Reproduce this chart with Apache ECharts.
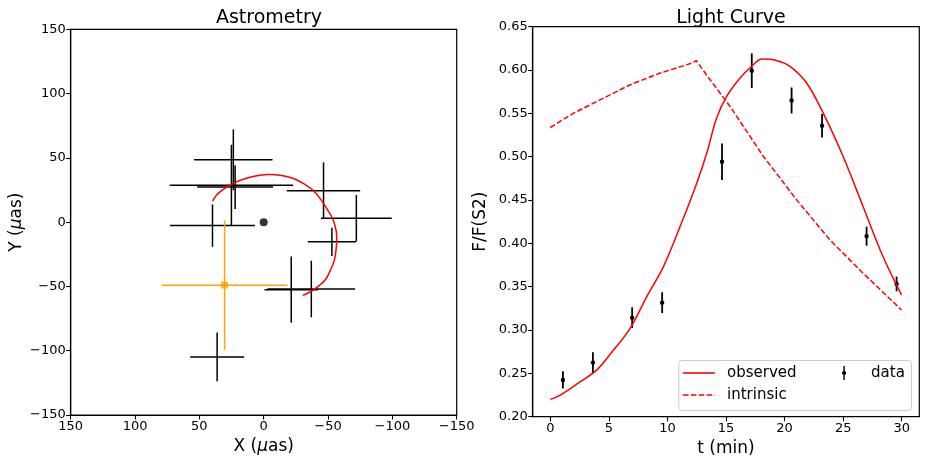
<!DOCTYPE html>
<html>
<head>
<meta charset="utf-8">
<script src="https://cdn.jsdelivr.net/npm/echarts@6/dist/echarts.min.js"></script>
<style>
  html, body { margin: 0; padding: 0; background: #fff; }
  #chart { width: 926px; height: 464px; }
</style>
</head>
<body>
<div id="chart"></div>
<script>
// astrometry, [X, Y, xerr, yerr] in uas
const astroPoints = [
  [23.6, 48.5, 30.5, 23.7],
  [25.1, 28.7, 48.0, 31.5],
  [22.2, 27.3, 29.5, 17.0],
  [39.8, -2.7, 33.0, 16.5],
  [-46.5, 24.5, 28.5, 22.0],
  [-72.0, 3.0, 27.5, 18.0],
  [-53.0, -15.3, 18.7, 11.0],
  [-21.4, -52.5, 20.7, 25.7],
  [-37.0, -52.0, 34.0, 22.0],
  [36.2, -104.8, 21.0, 19.0]
];
const astroRef = [[30.4, -49.0, 48.8, 50.3]];
const centrePoint = [[0, 0]];
const orbitX = [39.7, 36.6, 31.4, 23.7, 13.4, 3.0, -4.1, -14.0, -22.7, -31.0, -38.1, -44.5, -49.7, -53.5,
  -54.9, -56.5, -56.7, -56.2, -54.9, -52.0, -48.5, -43.5, -38.1, -34.0, -30.4];
const orbitY = [16.4, 21.1, 25.5, 30.2, 34.1, 36.5, 37.0, 36.3, 34.1, 30.0, 25.0, 17.5, 9.4, 3.0,
  -1.0, -8.0, -14.0, -22.0, -29.7, -37.0, -44.0, -49.0, -53.1, -55.3, -57.0];

// light curve
const lcTime = [1.08, 3.64, 6.99, 9.55, 14.66, 17.2, 20.6, 23.2, 27.0, 29.56];
const lcFlux = [0.2424, 0.2624, 0.3143, 0.3316, 0.4941, 0.5992, 0.5649, 0.5357, 0.4083, 0.3532];
const lcErr = [0.010, 0.012, 0.012, 0.012, 0.021, 0.020, 0.015, 0.0135, 0.011, 0.0085];
const obsT = [0, 0.85, 2.56, 3.98, 5.4, 6.82, 8.24, 9.66, 11.08, 12.5, 13.36, 14.2, 15.06, 16.2, 17.33,
  18.05, 19.3, 20.46, 21.88, 23.3, 25.0, 26.7, 28.4, 29.98];
const obsF = [0.220, 0.225, 0.2404, 0.254, 0.277, 0.302, 0.3386, 0.3732, 0.4194, 0.4695, 0.5042, 0.5446,
  0.5695, 0.5908, 0.6061, 0.6127, 0.6111, 0.6042, 0.585, 0.5503, 0.5002, 0.4425, 0.3848, 0.3405];
const intrT = [0, 1.99, 3.98, 6.82, 9.38, 12.2, 12.45, 13.64, 15.35, 18.2, 21.03, 23.87, 26.7, 29.98];
const intrF = [0.5337, 0.5503, 0.5637, 0.583, 0.5965, 0.6085, 0.611, 0.5888, 0.558, 0.5002, 0.4502,
  0.404, 0.3656, 0.3232];
const tTicks = [0, 5, 10, 15, 20, 25, 30];

const FONT = "DejaVu Sans";
const minus = (v) => String(v).replace("-", "\u2212");

const errorBars = (color, width, dot) => (params, api) => {
  const x = api.value(0), y = api.value(1), ex = api.value(2), ey = api.value(3);
  const style = { stroke: color, lineWidth: width };
  const children = [];
  if (ex > 0) {
    const l = api.coord([x - ex, y]), r = api.coord([x + ex, y]);
    children.push({ type: "line", shape: { x1: l[0], y1: l[1], x2: r[0], y2: r[1] }, style });
  }
  const b = api.coord([x, y - ey]), t = api.coord([x, y + ey]);
  children.push({ type: "line", shape: { x1: b[0], y1: b[1], x2: t[0], y2: t[1] }, style });
  if (dot) {
    const c = api.coord([x, y]);
    children.push({ type: "circle", shape: { cx: c[0], cy: c[1], r: dot }, style: { fill: color } });
  }
  return { type: "group", children };
};

const axisCommon = {
  axisLine: { show: true, onZero: false, lineStyle: { color: "#000", width: 1.2 } },
  axisTick: { show: true, length: 4.5, lineStyle: { color: "#000", width: 1.1 } },
  axisLabel: { color: "#000", fontFamily: FONT, fontSize: 13, margin: 5 },
  splitLine: { show: false },
  nameTextStyle: { color: "#000", fontFamily: FONT, fontSize: 17,
    rich: { i: { fontStyle: "italic", fontFamily: FONT, fontSize: 17, color: "#000" } } }
};

// legend glyphs
const solidIcon = "path://M0,0 L32,0 L32,1.6 L0,1.6 Z";
const dashedIcon = "path://M0,0 h5.5 v1.6 h-5.5 Z M7.9,0 h5.5 v1.6 h-5.5 Z M15.8,0 h5.5 v1.6 h-5.5 Z M23.7,0 h5.5 v1.6 h-5.5 Z M31.6,0 h0.4 v1.6 h-0.4 Z";
const barIcon = "path://M9,0 L11,0 L11,20 L9,20 Z M10,7 A3,3 0 1 1 10,13 A3,3 0 1 1 10,7 Z";

const chart = echarts.init(document.getElementById("chart"));
chart.setOption({
  animation: false,
  title: [
    { text: "Astrometry", left: 264, top: 4, textAlign: "center",
      textStyle: { fontFamily: FONT, fontSize: 19, fontWeight: "normal", color: "#000" } },
    { text: "Light Curve", left: 726, top: 4, textAlign: "center",
      textStyle: { fontFamily: FONT, fontSize: 19, fontWeight: "normal", color: "#000" } }
  ],
  grid: [
    { left: 70.7, top: 29.3, width: 386, height: 385.7, show: true, borderColor: "#000", borderWidth: 1.2 },
    { left: 532.7, top: 26.7, width: 386.6, height: 390, show: true, borderColor: "#000", borderWidth: 1.2 }
  ],
  xAxis: [
    Object.assign({}, axisCommon, {
      gridIndex: 0, type: "value", min: -150, max: 150, interval: 50, inverse: true,
      name: "X ({i|\u03bc}as)", nameLocation: "middle", nameGap: 20,
      axisLabel: Object.assign({}, axisCommon.axisLabel, { formatter: minus })
    }),
    Object.assign({}, axisCommon, {
      gridIndex: 1, type: "value", min: -1.5, max: 31.5,
      name: "t (min)", nameLocation: "middle", nameGap: 20,
      axisTick: Object.assign({}, axisCommon.axisTick, { customValues: tTicks }),
      axisLabel: Object.assign({}, axisCommon.axisLabel, { customValues: tTicks })
    })
  ],
  yAxis: [
    Object.assign({}, axisCommon, {
      gridIndex: 0, type: "value", min: -150, max: 150, interval: 50,
      name: "Y ({i|\u03bc}as)", nameLocation: "middle", nameGap: 46,
      axisLabel: Object.assign({}, axisCommon.axisLabel, { formatter: minus })
    }),
    Object.assign({}, axisCommon, {
      gridIndex: 1, type: "value", min: 0.2, max: 0.65, interval: 0.05,
      name: "F/F(S2)", nameLocation: "middle", nameGap: 44,
      axisLabel: Object.assign({}, axisCommon.axisLabel, { formatter: (v) => v.toFixed(2) })
    })
  ],
  legend: [
    { left: 683, top: 365.5, padding: 0, orient: "vertical", itemWidth: 32, itemHeight: 14, itemGap: 7,
      data: [{ name: "observed", icon: solidIcon }, { name: "intrinsic", icon: dashedIcon }],
      itemStyle: { color: "#ff0000", borderWidth: 0 },
      textStyle: { fontFamily: FONT, fontSize: 15, color: "#000", padding: [0, 0, 0, 7] } },
    { left: 842, top: 365.5, padding: 0, orient: "vertical", itemWidth: 28, itemHeight: 14,
      data: [{ name: "data", icon: barIcon }],
      itemStyle: { color: "#000" },
      textStyle: { fontFamily: FONT, fontSize: 15, color: "#000", padding: [0, 0, 0, 8] } }
  ],
  graphic: [
    { type: "rect", left: 678.3, top: 360, z: 3,
      shape: { width: 232.7, height: 50, r: 3 },
      style: { fill: "rgba(255,255,255,0.8)", stroke: "#cccccc", lineWidth: 1 } }
  ],
  series: [
    { name: "orbit", type: "line", xAxisIndex: 0, yAxisIndex: 0, symbol: "none", smooth: 0.3,
      data: orbitX.map((x, i) => [x, orbitY[i]]),
      lineStyle: { color: "#ff0000", width: 1.5 } },
    { name: "astro", type: "custom", xAxisIndex: 0, yAxisIndex: 0,
      renderItem: errorBars("#000", 1.5, 0), encode: { x: 0, y: 1 }, data: astroPoints },
    { name: "ref", type: "custom", xAxisIndex: 0, yAxisIndex: 0, z: 3,
      renderItem: errorBars("#ffa500", 1.5, 0), encode: { x: 0, y: 1 }, data: astroRef },
    { name: "refMarker", type: "scatter", xAxisIndex: 0, yAxisIndex: 0, symbol: "rect", symbolSize: 7, z: 4,
      data: astroRef.map((p) => [p[0], p[1]]), itemStyle: { color: "#ffa500" } },
    { name: "centre", type: "scatter", xAxisIndex: 0, yAxisIndex: 0, symbolSize: 8,
      data: centrePoint, itemStyle: { color: "#000" } },
    { name: "observed", type: "line", xAxisIndex: 1, yAxisIndex: 1, symbol: "none", smooth: 0.35,
      data: obsT.map((t, i) => [t, obsF[i]]),
      itemStyle: { color: "#ff0000" },
      lineStyle: { color: "#ff0000", width: 1.5 } },
    { name: "intrinsic", type: "line", xAxisIndex: 1, yAxisIndex: 1, symbol: "none",
      data: intrT.map((t, i) => [t, intrF[i]]),
      itemStyle: { color: "#ff0000" },
      lineStyle: { color: "#ff0000", width: 1.5, type: [5.5, 2.4] } },
    { name: "data", type: "custom", xAxisIndex: 1, yAxisIndex: 1, z: 3,
      renderItem: errorBars("#000", 1.8, 2.2), encode: { x: 0, y: 1 },
      itemStyle: { color: "#000" },
      data: lcTime.map((t, i) => [t, lcFlux[i], 0, lcErr[i]]) }
  ]
});
</script>
</body>
</html>
